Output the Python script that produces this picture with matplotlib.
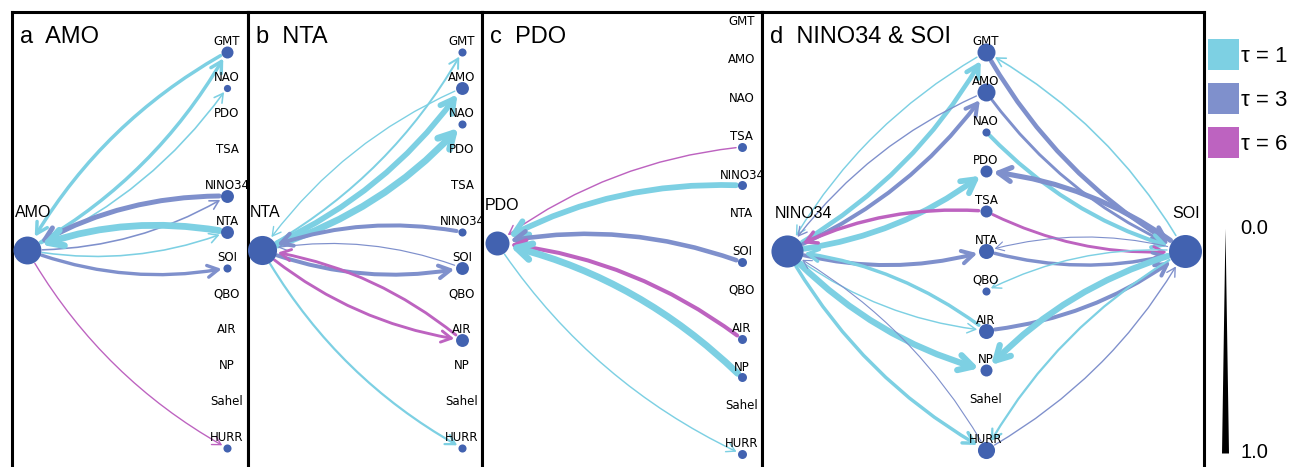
import numpy as np
import matplotlib
matplotlib.use('Agg')
import matplotlib.pyplot as plt
from matplotlib.patches import FancyArrowPatch, ArrowStyle, Patch

W, H = 1295, 467
lag_colors = {1: '#7dd0e3', 3: '#7f90cc', 6: '#bd63c0'}
node_color = '#4262b0'
lag_labels = ['τ = 1', 'τ = 3', 'τ = 6']
width_ticks = [0.0, 1.0]

# ---- panel a: AMO
a_center = [('AMO', 0.93)]
a_names = ['GMT', 'NAO', 'PDO', 'TSA', 'NINO34', 'NTA', 'SOI', 'QBO', 'AIR', 'NP', 'Sahel', 'HURR']
a_weight = [0.40, 0.24, 0, 0, 0.43, 0.43, 0.27, 0, 0, 0, 0, 0.27]
a_edges = [  # source, target, lag, strength
    ('GMT', 'AMO', 1, 0.43), ('AMO', 'GMT', 1, 0.43), ('AMO', 'NAO', 1, 0.20),
    ('NINO34', 'AMO', 3, 0.62), ('AMO', 'NINO34', 3, 0.20),
    ('NTA', 'AMO', 1, 0.85), ('AMO', 'NTA', 1, 0.20),
    ('AMO', 'SOI', 3, 0.42), ('AMO', 'HURR', 6, 0.17),
]

# ---- panel b: NTA
b_center = [('NTA', 0.97)]
b_names = ['GMT', 'AMO', 'NAO', 'PDO', 'TSA', 'NINO34', 'SOI', 'QBO', 'AIR', 'NP', 'Sahel', 'HURR']
b_weight = [0.27, 0.43, 0.27, 0, 0, 0.27, 0.43, 0, 0.43, 0, 0, 0.27]
b_edges = [
    ('NTA', 'GMT', 1, 0.25), ('AMO', 'NTA', 1, 0.17), ('NTA', 'AMO', 1, 0.70),
    ('NTA', 'NAO', 1, 0.85), ('NINO34', 'NTA', 3, 0.50),
    ('SOI', 'NTA', 3, 0.15), ('NTA', 'SOI', 3, 0.50),
    ('AIR', 'NTA', 6, 0.36), ('NTA', 'AIR', 6, 0.36), ('NTA', 'HURR', 1, 0.28),
]

# ---- panel c: PDO
c_center = [('PDO', 0.80)]
c_names = ['GMT', 'AMO', 'NAO', 'TSA', 'NINO34', 'NTA', 'SOI', 'QBO', 'AIR', 'NP', 'Sahel', 'HURR']
c_weight = [0, 0, 0, 0.30, 0.30, 0, 0.30, 0, 0.30, 0.30, 0, 0.30]
c_edges = [
    ('TSA', 'PDO', 6, 0.18), ('NINO34', 'PDO', 1, 0.72), ('SOI', 'PDO', 3, 0.57),
    ('AIR', 'PDO', 6, 0.50), ('NP', 'PDO', 1, 0.85), ('PDO', 'HURR', 1, 0.18),
]

# ---- panel d: NINO34 & SOI
d_center = [('NINO34', 1.07), ('SOI', 1.10)]
d_names = ['GMT', 'AMO', 'NAO', 'PDO', 'TSA', 'NTA', 'QBO', 'AIR', 'NP', 'Sahel', 'HURR']
d_weight = [0.60, 0.60, 0.27, 0.40, 0.40, 0.50, 0.27, 0.50, 0.40, 0, 0.57]
d_edges = [
    ('GMT', 'NINO34', 1, 0.18), ('NINO34', 'GMT', 1, 0.57),
    ('AMO', 'NINO34', 3, 0.17), ('NINO34', 'AMO', 3, 0.50),
    ('NINO34', 'PDO', 1, 0.72), ('TSA', 'NINO34', 6, 0.43),
    ('NINO34', 'NTA', 3, 0.50), ('AIR', 'NINO34', 1, 0.43), ('NINO34', 'AIR', 1, 0.18),
    ('NINO34', 'NP', 1, 0.78), ('NINO34', 'HURR', 1, 0.43), ('HURR', 'NINO34', 3, 0.14),
    ('SOI', 'GMT', 1, 0.20), ('GMT', 'SOI', 3, 0.57), ('AMO', 'SOI', 3, 0.36),
    ('NAO', 'SOI', 1, 0.50), ('SOI', 'PDO', 3, 0.64), ('TSA', 'SOI', 6, 0.36),
    ('SOI', 'NTA', 3, 0.14), ('NTA', 'SOI', 3, 0.43), ('SOI', 'QBO', 1, 0.18),
    ('AIR', 'SOI', 3, 0.50), ('SOI', 'NP', 1, 0.78), ('SOI', 'HURR', 1, 0.28),
    ('HURR', 'SOI', 3, 0.17),
]

PX = 0.72          # points per pixel at dpi 100
NODE_PX = 30       # node diameter (px) for weight 1
EDGE_PX = 8        # edge width (px) for strength 1

fig = plt.figure(figsize=(W / 100, H / 100), dpi=100)


def draw_panel(left, right, xlim, ylim, title, centers, names, weights, edges, mid_x):
    ax = fig.add_axes([left / W, 1 - 475 / H, (right - left) / W, (475 - 12) / H])
    ax.set_xlim(*xlim)
    ax.set_ylim(*ylim)
    ax.set_xticks([])
    ax.set_yticks([])
    for sp in ax.spines.values():
        sp.set_linewidth(2.2)
    ax.spines['bottom'].set_visible(False)

    pos, rad = {}, {}
    cy = (len(names) - 1) / 2
    for k, (nm, w) in enumerate(centers):
        pos[nm] = (float(k), cy)
        rad[nm] = NODE_PX * w * PX / 2
    for i, (nm, w) in enumerate(zip(names, weights)):
        pos[nm] = (mid_x, i)
        rad[nm] = NODE_PX * w * PX / 2

    for src, dst, lag, s in edges:
        lw = max(s * EDGE_PX * PX, 0.6)
        arr = FancyArrowPatch(pos[src], pos[dst],
                              connectionstyle='arc3,rad=0.14',
                              arrowstyle=ArrowStyle('->', head_length=0.45, head_width=0.25),
                              mutation_scale=11 + 2.5 * lw, lw=lw,
                              color=lag_colors[lag],
                              shrinkA=rad[src] + 1, shrinkB=rad[dst] + 1, zorder=2)
        ax.add_patch(arr)

    for nm, w in centers:
        ax.scatter(*pos[nm], s=(NODE_PX * w * PX) ** 2, color=node_color, zorder=3, linewidths=0)
        ax.annotate(nm, pos[nm], xytext=(-9, 24), textcoords='offset points',
                    ha='left', va='baseline', fontsize=11.5, family='Liberation Sans', zorder=4)
    for nm, w in zip(names, weights):
        if w > 0:
            ax.scatter(*pos[nm], s=(NODE_PX * w * PX) ** 2, color=node_color, zorder=3, linewidths=0)
        ax.annotate(nm, pos[nm], xytext=(0, 7.5), textcoords='offset points',
                    ha='center', va='center', fontsize=8.5, family='DejaVu Sans', zorder=4)

    fig.text((left + 8) / W, 1 - 43 / H, title, fontsize=17, family='Liberation Sans',
             ha='left', va='baseline')
    return ax


draw_panel(12, 248, (-0.075, 1.105), (11.75, -1.11), 'a  AMO', a_center, a_names, a_weight, a_edges, 1.0)
draw_panel(248, 482, (-0.07, 1.10), (11.75, -1.11), 'b  NTA', b_center, b_names, b_weight, b_edges, 1.0)
draw_panel(482, 762, (-0.061, 1.082), (11.54, -0.516), 'c  PDO', c_center, c_names, c_weight, c_edges, 1.0)
draw_panel(762, 1204, (-0.063, 1.048), (10.63, -1.005), 'd  NINO34 & SOI', d_center, d_names, d_weight, d_edges, 0.5)

# lag legend
handles = [Patch(facecolor=lag_colors[l], edgecolor='none') for l in (1, 3, 6)]
fig.legend(handles, lag_labels, loc='upper left', bbox_to_anchor=(1208 / W, 1 - 39 / H),
           frameon=False, borderpad=0, borderaxespad=0, handlelength=1.4, handleheight=1.8,
           handletextpad=0.08, labelspacing=0.56, prop={'family': 'Liberation Sans', 'size': 16})

# width legend (wedge)
lax = fig.add_axes([1210 / W, 1 - 453 / H, 30 / W, (453 - 228) / H])
lax.set_xlim(-15, 15)
lax.set_ylim(1, 0)
lax.axis('off')
sv = np.linspace(0, 1, 50)
lax.fill_betweenx(sv, -sv * 3.5, sv * 3.5, color='black', lw=0)
for t in width_ticks:
    lax.annotate(f'{t:.1f}', (15, t), xytext=(0, 0), textcoords='offset points',
                 ha='left', va='center', fontsize=14.5, family='Liberation Sans')

fig.savefig('out.png', dpi=100)
